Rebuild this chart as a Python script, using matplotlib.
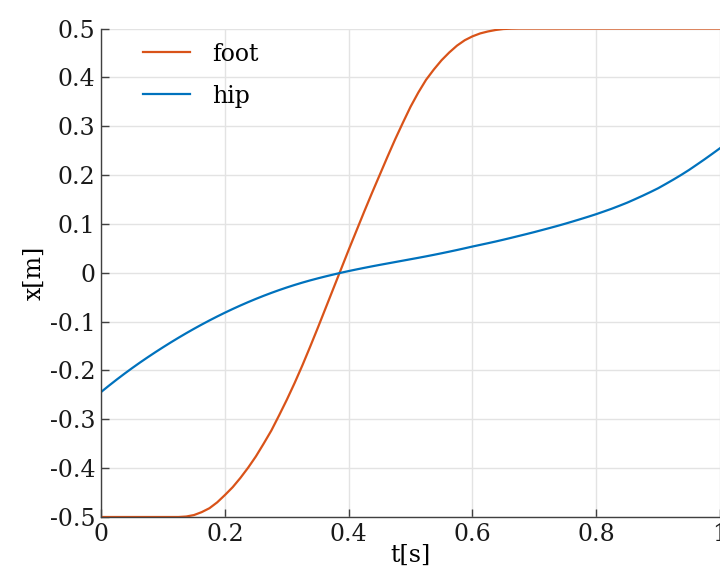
import matplotlib
matplotlib.use("Agg")
import numpy as np
import matplotlib.pyplot as plt

# Sample times [s], 12.5 ms apart
t = np.linspace(0.0, 1.0, 81)

# Foot position [m]
foot = [-0.5, -0.5, -0.5, -0.5, -0.5, -0.5, -0.5, -0.5, -0.5, -0.5,
        -0.5, -0.499, -0.496, -0.490, -0.482, -0.470, -0.455, -0.439, -0.420, -0.399,
        -0.376, -0.350, -0.323, -0.292, -0.260, -0.226, -0.190, -0.152, -0.113, -0.073,
        -0.033, 0.007, 0.047, 0.086, 0.125, 0.163, 0.200, 0.237, 0.273, 0.307,
        0.340, 0.369, 0.395, 0.416, 0.435, 0.451, 0.465, 0.476, 0.484, 0.490,
        0.494, 0.497, 0.499, 0.4997, 0.5, 0.5, 0.5, 0.5, 0.5, 0.5,
        0.5, 0.5, 0.5, 0.5, 0.5, 0.5, 0.5, 0.5, 0.5, 0.5,
        0.5, 0.5, 0.5, 0.5, 0.5, 0.5, 0.5, 0.5, 0.5, 0.5, 0.5]

# Hip position [m]
hip = [-0.2440, -0.2312, -0.2188, -0.2068, -0.1952, -0.1840, -0.1732, -0.1627, -0.1525, -0.1426,
       -0.1330, -0.1237, -0.1147, -0.1060, -0.0976, -0.0895, -0.0817, -0.0742, -0.0670, -0.0601,
       -0.0535, -0.0472, -0.0412, -0.0355, -0.0301, -0.0250, -0.0202, -0.0157, -0.0115, -0.0075,
       -0.0037, 0.0000, 0.0035, 0.0068, 0.0100, 0.0131, 0.0161, 0.0190, 0.0219, 0.0248,
       0.0277, 0.0306, 0.0336, 0.0367, 0.0399, 0.0432, 0.0466, 0.0501, 0.0537, 0.0571,
       0.0605, 0.0640, 0.0677, 0.0715, 0.0754, 0.0793, 0.0833, 0.0875, 0.0917, 0.0960,
       0.1005, 0.1052, 0.1100, 0.1149, 0.1200, 0.1255, 0.1311, 0.1372, 0.1435, 0.1505,
       0.1577, 0.1652, 0.1730, 0.1819, 0.1910, 0.2005, 0.2105, 0.2213, 0.2322, 0.2435, 0.2550]

xticks = [0, 0.2, 0.4, 0.6, 0.8, 1.0]
xticklabels = ["0", "0.2", "0.4", "0.6", "0.8", "1"]
yticks = [-0.5, -0.4, -0.3, -0.2, -0.1, 0, 0.1, 0.2, 0.3, 0.4, 0.5]
yticklabels = ["-0.5", "-0.4", "-0.3", "-0.2", "-0.1", "0", "0.1", "0.2", "0.3", "0.4", "0.5"]

plt.rcParams["font.family"] = ["DejaVu Serif"]

fig = plt.figure(figsize=(7.2, 5.74), dpi=100)
ax = fig.add_axes([0.1405, 0.0993, 0.8595, 0.851])

ax.plot(t, foot, color="#D95319", lw=1.6, label="foot")
ax.plot(t, hip, color="#0072BD", lw=1.6, label="hip")

ax.set_xlim(0, 1)
ax.set_ylim(-0.5, 0.5)
ax.set_xticks(xticks)
ax.set_xticklabels(xticklabels)
ax.set_yticks(yticks)
ax.set_yticklabels(yticklabels)

ax.grid(True, color="#e3e3e3", lw=1.0)
ax.set_axisbelow(True)
for side in ("top", "right"):
    ax.spines[side].set_visible(False)
for side in ("left", "bottom"):
    ax.spines[side].set_color("#404040")
    ax.spines[side].set_linewidth(1.0)

ax.tick_params(direction="in", length=6, width=1.0, color="#404040",
               labelsize=17, labelcolor="#1a1a1a", pad=4)

ax.set_xlabel("t[s]", fontsize=17, labelpad=-1)
ax.set_ylabel("x[m]", fontsize=17, labelpad=3)

leg = ax.legend(loc="upper left", frameon=False, fontsize=17,
                handlelength=2.0, handletextpad=0.95, labelspacing=0.8,
                borderaxespad=0.2, bbox_to_anchor=(0.044, 1.0))

fig.savefig("out.png", dpi=100)
